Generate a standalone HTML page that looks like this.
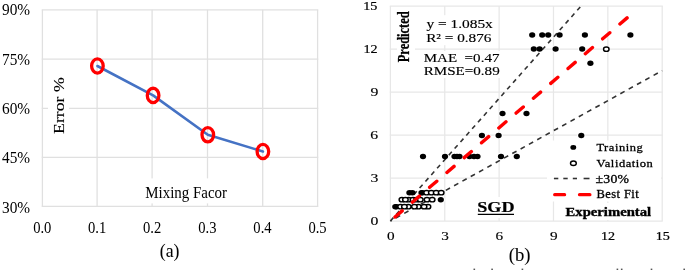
<!DOCTYPE html><html><head><meta charset="utf-8"><style>html,body{margin:0;padding:0;background:#fff;width:685px;height:270px;overflow:hidden}svg{position:absolute;left:0;top:0;display:block}text{font-family:"Liberation Serif",serif;white-space:pre}</style></head><body>
<svg width="685" height="270" viewBox="0 0 685 270">
<defs><filter id="bl" x="0" y="0" width="685" height="270" filterUnits="userSpaceOnUse"><feGaussianBlur stdDeviation="0.35"/></filter>
<ellipse id="fh" rx="4.1" ry="3.7" fill="#fff"/><ellipse id="fd" rx="3.1" ry="2.75" fill="#000"/>
<g id="oc"><ellipse rx="2.75" ry="2.15" fill="#fff" stroke="#000" stroke-width="1.45"/></g></defs>
<g filter="url(#bl)"><rect width="685" height="270" fill="#fff"/>
<line x1="41.75" y1="9.80" x2="318.25" y2="9.80" stroke="#e0e0e0" stroke-width="1.30"/>
<line x1="41.75" y1="59.10" x2="318.25" y2="59.10" stroke="#e0e0e0" stroke-width="1.30"/>
<line x1="41.75" y1="108.30" x2="318.25" y2="108.30" stroke="#e0e0e0" stroke-width="1.30"/>
<line x1="41.75" y1="157.40" x2="318.25" y2="157.40" stroke="#e0e0e0" stroke-width="1.30"/>
<line x1="41.75" y1="206.40" x2="318.25" y2="206.40" stroke="#e0e0e0" stroke-width="1.30"/>
<line x1="42.40" y1="9.80" x2="42.40" y2="206.40" stroke="#e0e0e0" stroke-width="1.30"/>
<line x1="97.10" y1="9.80" x2="97.10" y2="206.40" stroke="#e0e0e0" stroke-width="1.30"/>
<line x1="152.10" y1="9.80" x2="152.10" y2="206.40" stroke="#e0e0e0" stroke-width="1.30"/>
<line x1="207.50" y1="9.80" x2="207.50" y2="206.40" stroke="#e0e0e0" stroke-width="1.30"/>
<line x1="262.70" y1="9.80" x2="262.70" y2="206.40" stroke="#e0e0e0" stroke-width="1.30"/>
<line x1="317.60" y1="9.80" x2="317.60" y2="206.40" stroke="#e0e0e0" stroke-width="1.30"/>
<rect x="48" y="70" width="21" height="70" fill="#fff"/>
<rect x="140" y="178.4" width="95" height="25" fill="#fff"/>
<polyline points="97.4,66.0 153.1,95.4 207.8,134.8 262.9,151.5" fill="none" stroke="#4472c4" stroke-width="2.6" stroke-linejoin="round" stroke-linecap="round"/>
<ellipse cx="97.4" cy="66.0" rx="5.8" ry="7.15" fill="none" stroke="#ff0000" stroke-width="3.3"/>
<ellipse cx="153.1" cy="95.4" rx="5.8" ry="7.15" fill="none" stroke="#ff0000" stroke-width="3.3"/>
<ellipse cx="207.8" cy="134.8" rx="5.8" ry="7.15" fill="none" stroke="#ff0000" stroke-width="3.3"/>
<ellipse cx="262.9" cy="151.5" rx="5.8" ry="7.15" fill="none" stroke="#ff0000" stroke-width="3.3"/>
<line x1="389.80" y1="6.00" x2="662.80" y2="6.00" stroke="#e7e7e7" stroke-width="1.25"/>
<line x1="389.80" y1="49.00" x2="662.80" y2="49.00" stroke="#e7e7e7" stroke-width="1.25"/>
<line x1="389.80" y1="92.00" x2="662.80" y2="92.00" stroke="#e7e7e7" stroke-width="1.25"/>
<line x1="389.80" y1="135.00" x2="662.80" y2="135.00" stroke="#e7e7e7" stroke-width="1.25"/>
<line x1="389.80" y1="178.00" x2="662.80" y2="178.00" stroke="#e7e7e7" stroke-width="1.25"/>
<line x1="389.80" y1="221.00" x2="662.80" y2="221.00" stroke="#e7e7e7" stroke-width="1.25"/>
<line x1="390.40" y1="6.00" x2="390.40" y2="221.00" stroke="#e7e7e7" stroke-width="1.25"/>
<line x1="444.76" y1="6.00" x2="444.76" y2="221.00" stroke="#e7e7e7" stroke-width="1.25"/>
<line x1="499.12" y1="6.00" x2="499.12" y2="221.00" stroke="#e7e7e7" stroke-width="1.25"/>
<line x1="553.48" y1="6.00" x2="553.48" y2="221.00" stroke="#e7e7e7" stroke-width="1.25"/>
<line x1="607.84" y1="6.00" x2="607.84" y2="221.00" stroke="#e7e7e7" stroke-width="1.25"/>
<line x1="662.20" y1="6.00" x2="662.20" y2="221.00" stroke="#e7e7e7" stroke-width="1.25"/>
<rect x="397" y="10" width="18" height="56" fill="#fff"/>
<rect x="420" y="15.2" width="75" height="30" fill="#fff"/>
<rect x="418" y="51" width="86" height="27" fill="#fff"/>
<rect x="472" y="197" width="48" height="21" fill="#fff"/>
<rect x="547" y="140.5" width="114" height="61" fill="#fff"/>
<rect x="560" y="203" width="96" height="17" fill="#fff"/>
<use href="#fh" x="532.20" y="35.00"/>
<use href="#fh" x="542.20" y="35.00"/>
<use href="#fh" x="548.20" y="35.00"/>
<use href="#fh" x="559.60" y="35.00"/>
<use href="#fh" x="584.90" y="35.00"/>
<use href="#fh" x="630.40" y="35.00"/>
<use href="#fh" x="533.80" y="49.00"/>
<use href="#fh" x="539.60" y="49.00"/>
<use href="#fh" x="555.60" y="49.00"/>
<use href="#fh" x="582.20" y="49.00"/>
<use href="#fh" x="590.40" y="63.30"/>
<use href="#fh" x="502.50" y="113.40"/>
<use href="#fh" x="526.50" y="113.40"/>
<use href="#fh" x="481.90" y="135.40"/>
<use href="#fh" x="498.60" y="135.40"/>
<use href="#fh" x="581.30" y="135.40"/>
<use href="#fh" x="423.00" y="156.40"/>
<use href="#fh" x="445.00" y="156.40"/>
<use href="#fh" x="454.50" y="156.40"/>
<use href="#fh" x="457.00" y="156.40"/>
<use href="#fh" x="459.50" y="156.40"/>
<use href="#fh" x="469.50" y="156.40"/>
<use href="#fh" x="474.00" y="156.40"/>
<use href="#fh" x="477.50" y="156.40"/>
<use href="#fh" x="501.00" y="156.40"/>
<use href="#fh" x="516.80" y="156.40"/>
<use href="#fh" x="409.40" y="192.70"/>
<use href="#fh" x="412.40" y="192.70"/>
<use href="#fh" x="421.50" y="192.70"/>
<use href="#fh" x="422.50" y="192.70"/>
<use href="#fh" x="440.80" y="199.70"/>
<use href="#fh" x="395.30" y="206.70"/>
<use href="#fh" x="396.50" y="206.70"/>
<line x1="390.40" y1="221.00" x2="581.1" y2="6.00" stroke="#333" stroke-width="1.6" stroke-dasharray="4.5 4.3"/>
<line x1="390.40" y1="221.00" x2="662.20" y2="70.6" stroke="#333" stroke-width="1.6" stroke-dasharray="4.85 4.65" stroke-dashoffset="3.2"/>
<use href="#fd" x="532.20" y="35.00"/>
<use href="#fd" x="542.20" y="35.00"/>
<use href="#fd" x="548.20" y="35.00"/>
<use href="#fd" x="559.60" y="35.00"/>
<use href="#fd" x="584.90" y="35.00"/>
<use href="#fd" x="630.40" y="35.00"/>
<use href="#fd" x="533.80" y="49.00"/>
<use href="#fd" x="539.60" y="49.00"/>
<use href="#fd" x="555.60" y="49.00"/>
<use href="#fd" x="582.20" y="49.00"/>
<use href="#fd" x="590.40" y="63.30"/>
<use href="#fd" x="502.50" y="113.40"/>
<use href="#fd" x="526.50" y="113.40"/>
<use href="#fd" x="481.90" y="135.40"/>
<use href="#fd" x="498.60" y="135.40"/>
<use href="#fd" x="581.30" y="135.40"/>
<use href="#fd" x="423.00" y="156.40"/>
<use href="#fd" x="445.00" y="156.40"/>
<use href="#fd" x="454.50" y="156.40"/>
<use href="#fd" x="457.00" y="156.40"/>
<use href="#fd" x="459.50" y="156.40"/>
<use href="#fd" x="469.50" y="156.40"/>
<use href="#fd" x="474.00" y="156.40"/>
<use href="#fd" x="477.50" y="156.40"/>
<use href="#fd" x="501.00" y="156.40"/>
<use href="#fd" x="516.80" y="156.40"/>
<use href="#fd" x="409.40" y="192.70"/>
<use href="#fd" x="412.40" y="192.70"/>
<use href="#fd" x="421.50" y="192.70"/>
<use href="#fd" x="422.50" y="192.70"/>
<use href="#fd" x="440.80" y="199.70"/>
<use href="#fd" x="395.30" y="206.70"/>
<use href="#fd" x="396.50" y="206.70"/>
<use href="#oc" x="426.60" y="192.70"/>
<use href="#oc" x="401.90" y="199.70"/>
<use href="#oc" x="408.60" y="199.70"/>
<use href="#oc" x="413.00" y="199.70"/>
<use href="#oc" x="416.50" y="199.70"/>
<use href="#oc" x="400.60" y="206.70"/>
<use href="#oc" x="408.30" y="206.70"/>
<use href="#oc" x="418.40" y="206.70"/>
<use href="#oc" x="428.00" y="206.70"/>
<use href="#oc" x="606.30" y="49.20"/>
<use href="#oc" x="431.30" y="192.70"/>
<use href="#oc" x="436.20" y="192.70"/>
<use href="#oc" x="441.20" y="192.70"/>
<use href="#oc" x="405.40" y="199.70"/>
<use href="#oc" x="420.30" y="199.70"/>
<use href="#oc" x="427.00" y="199.70"/>
<use href="#oc" x="432.20" y="199.70"/>
<use href="#oc" x="404.40" y="206.70"/>
<use href="#oc" x="414.40" y="206.70"/>
<use href="#oc" x="424.10" y="206.70"/>
<line x1="390.40" y1="221.00" x2="627.5" y2="17.5" stroke="#ff0000" stroke-width="3.4" stroke-linecap="round" stroke-dasharray="9.4 13.4" stroke-dashoffset="-6.1"/>
<ellipse cx="573.3" cy="147.4" rx="2.9" ry="2.35" fill="#000"/>
<ellipse cx="573.4" cy="163.2" rx="2.9" ry="2.3" fill="#fff" stroke="#000" stroke-width="1.45"/>
<line x1="553.9" y1="178.5" x2="558.3" y2="178.5" stroke="#333" stroke-width="1.6"/>
<line x1="563.3" y1="178.5" x2="567.7" y2="178.5" stroke="#333" stroke-width="1.6"/>
<line x1="572.8" y1="178.5" x2="577.0" y2="178.5" stroke="#333" stroke-width="1.6"/>
<line x1="583.6" y1="178.5" x2="589.5" y2="178.5" stroke="#333" stroke-width="1.6"/>
<line x1="554.7" y1="194.7" x2="564.6" y2="194.7" stroke="#ff0000" stroke-width="3.2" stroke-linecap="round"/>
<line x1="579.5" y1="194.7" x2="589.9" y2="194.7" stroke="#ff0000" stroke-width="3.2" stroke-linecap="round"/>
<line x1="477.8" y1="214.4" x2="514" y2="214.4" stroke="#000" stroke-width="1.2"/>
<text transform="translate(1.98,15.45) scale(1.0000,1.1500)" font-size="15.35" fill="#000">90%</text>
<text transform="translate(1.98,64.75) scale(1.0000,1.1500)" font-size="15.35" fill="#000">75%</text>
<text transform="translate(1.98,114.05) scale(1.0000,1.1500)" font-size="15.35" fill="#000">60%</text>
<text transform="translate(1.98,163.35) scale(1.0000,1.1500)" font-size="15.35" fill="#000">45%</text>
<text transform="translate(1.98,212.65) scale(1.0000,1.1500)" font-size="15.35" fill="#000">30%</text>
<text transform="translate(33.17,232.90) scale(1.0000,1.1200)" font-size="14.60" fill="#000">0.0</text>
<text transform="translate(87.99,232.90) scale(1.0000,1.1200)" font-size="14.60" fill="#000">0.1</text>
<text transform="translate(142.99,232.90) scale(1.0000,1.1200)" font-size="14.60" fill="#000">0.2</text>
<text transform="translate(198.28,232.90) scale(1.0000,1.1200)" font-size="14.60" fill="#000">0.3</text>
<text transform="translate(253.36,232.90) scale(1.0000,1.1200)" font-size="14.60" fill="#000">0.4</text>
<text transform="translate(308.38,232.90) scale(1.0000,1.1200)" font-size="14.60" fill="#000">0.5</text>
<text transform="translate(145.27,197.80) scale(1.0001,1.1300)" font-size="14.95" fill="#000">Mixing Facor</text>
<text transform="translate(64.40,133.88) rotate(-90) scale(1.1595,1.0000)" font-size="15.30" fill="#000" stroke="#000" stroke-width="0.12">Error %</text>
<text transform="translate(159.75,256.50) scale(1.0439,1.0500)" font-size="17.00" fill="#000" stroke="#000" stroke-width="0.05">(a)</text>
<text transform="translate(363.19,9.70) scale(1.2200,1.0000)" font-size="11.60" fill="#000" stroke="#000" stroke-width="0.20">15</text>
<text transform="translate(363.41,52.70) scale(1.2200,1.0000)" font-size="11.60" fill="#000" stroke="#000" stroke-width="0.20">12</text>
<text transform="translate(370.52,96.10) scale(1.2700,1.0000)" font-size="12.40" fill="#000" stroke="#000" stroke-width="0.15">9</text>
<text transform="translate(370.27,139.10) scale(1.2700,1.0000)" font-size="12.40" fill="#000" stroke="#000" stroke-width="0.15">6</text>
<text transform="translate(370.52,182.10) scale(1.2700,1.0000)" font-size="12.40" fill="#000" stroke="#000" stroke-width="0.15">3</text>
<text transform="translate(370.52,225.10) scale(1.2700,1.0000)" font-size="12.40" fill="#000" stroke="#000" stroke-width="0.15">0</text>
<text transform="translate(386.89,239.90) scale(1.2400,1.0000)" font-size="12.30" fill="#000" stroke="#000" stroke-width="0.15">0</text>
<text transform="translate(441.13,239.90) scale(1.2400,1.0000)" font-size="12.30" fill="#000" stroke="#000" stroke-width="0.15">3</text>
<text transform="translate(495.49,239.90) scale(1.2400,1.0000)" font-size="12.30" fill="#000" stroke="#000" stroke-width="0.15">6</text>
<text transform="translate(549.97,239.90) scale(1.2400,1.0000)" font-size="12.30" fill="#000" stroke="#000" stroke-width="0.15">9</text>
<text transform="translate(601.04,239.80) scale(1.2200,1.0000)" font-size="11.60" fill="#000" stroke="#000" stroke-width="0.20">12</text>
<text transform="translate(655.79,239.80) scale(1.2200,1.0000)" font-size="11.60" fill="#000" stroke="#000" stroke-width="0.20">15</text>
<text transform="translate(426.40,27.90) scale(1.2313,1.0000)" font-size="12.50" fill="#000" stroke="#000" stroke-width="0.15">y = 1.085x</text>
<text transform="translate(426.16,41.60) scale(1.2218,1.0000)" font-size="12.50" fill="#000" stroke="#000" stroke-width="0.15">R² = 0.876</text>
<text transform="translate(423.66,61.50) scale(1.2149,1.0000)" font-size="12.40" fill="#000" stroke="#000" stroke-width="0.15">MAE  =0.47</text>
<text transform="translate(423.66,75.00) scale(1.2185,1.0000)" font-size="12.40" fill="#000" stroke="#000" stroke-width="0.15">RMSE=0.89</text>
<text transform="translate(477.15,211.70) scale(1.2714,1.0000)" font-size="14.30" font-weight="bold" fill="#000" stroke="#000" stroke-width="0.20">SGD</text>
<text transform="translate(565.57,215.90) scale(1.2130,1.0000)" font-size="12.10" font-weight="bold" fill="#000" stroke="#000" stroke-width="0.35">Experimental</text>
<text letter-spacing="0.50" transform="translate(596.40,151.20) scale(1.0953,1.0000)" font-size="11.40" fill="#000" stroke="#000" stroke-width="0.30">Training</text>
<text letter-spacing="0.50" transform="translate(596.60,166.80) scale(1.0962,1.0000)" font-size="11.40" fill="#000" stroke="#000" stroke-width="0.30">Validation</text>
<text letter-spacing="0.20" transform="translate(595.57,182.90) scale(1.1872,1.0000)" font-size="11.60" fill="#000" stroke="#000" stroke-width="0.30">±30%</text>
<text letter-spacing="0.40" transform="translate(596.40,198.30) scale(1.0799,1.0000)" font-size="11.60" fill="#000" stroke="#000" stroke-width="0.30">Best Fit</text>
<text transform="translate(409.45,62.29) rotate(-90) scale(1.0477,1.3200)" font-size="11.90" font-weight="bold" fill="#000" stroke="#000" stroke-width="0.20">Predicted</text>
<text transform="translate(508.72,260.95) scale(1.0976,1.0600)" font-size="17.00" fill="#000" stroke="#000" stroke-width="0.05">(b)</text>
<rect x="473.5" y="268.6" width="1.6" height="1.4" fill="#555"/>
<rect x="491.3" y="268.6" width="1.6" height="1.4" fill="#555"/>
<rect x="521.6" y="268.6" width="1.6" height="1.4" fill="#555"/>
<rect x="616.6" y="268.6" width="1.6" height="1.4" fill="#555"/>
<rect x="620.9" y="268.6" width="1.6" height="1.4" fill="#555"/>
<rect x="650.7" y="268.6" width="1.6" height="1.4" fill="#555"/>
<rect x="683.4" y="268.6" width="1.6" height="1.4" fill="#555"/>
</g></svg></body></html>
